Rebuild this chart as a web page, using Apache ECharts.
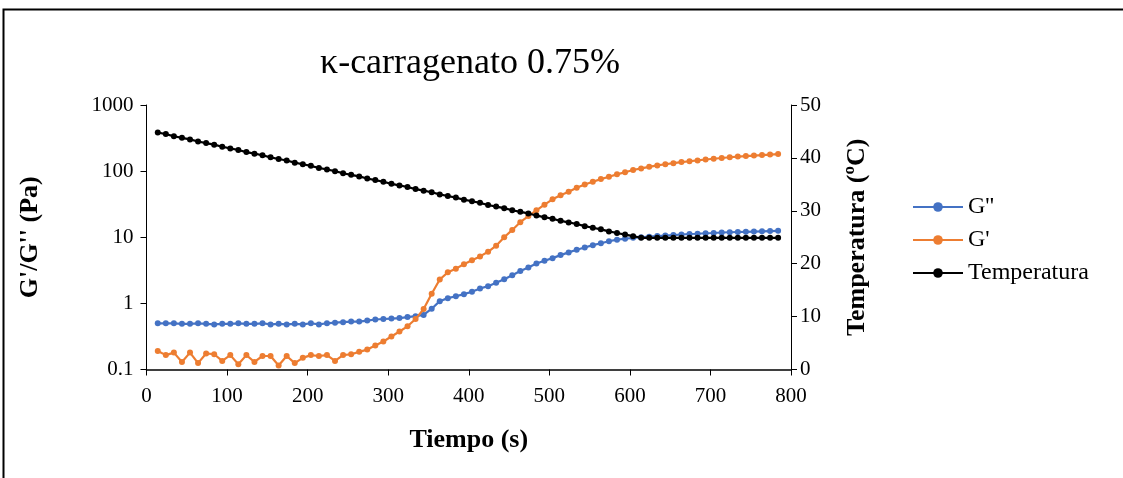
<!DOCTYPE html>
<html>
<head>
<meta charset="utf-8">
<script src="https://cdn.jsdelivr.net/npm/echarts@6/dist/echarts.min.js"></script>
<style>
  html, body { margin: 0; padding: 0; background: #ffffff; }
  #chart { width: 1123px; height: 478px; }
</style>
</head>
<body>
<div id="chart"></div>
<script>
// Time of each measurement (s)
const tiempo = [
  14, 24, 34, 44, 54, 64, 74, 84, 94, 104,
  114, 124, 134, 144, 154, 164, 174, 184, 194, 204,
  214, 224, 234, 244, 254, 264, 274, 284, 294, 304,
  314, 324, 334, 344, 354, 364, 374, 384, 394, 404,
  414, 424, 434, 444, 454, 464, 474, 484, 494, 504,
  514, 524, 534, 544, 554, 564, 574, 584, 594, 604,
  614, 624, 634, 644, 654, 664, 674, 684, 694, 704,
  714, 724, 734, 744, 754, 764, 774, 784
];

// Loss modulus G'' (Pa)
const gDoblePrima = [
  0.50, 0.50, 0.50, 0.49, 0.49, 0.50, 0.49, 0.48, 0.49, 0.49,
  0.50, 0.49, 0.49, 0.50, 0.48, 0.49, 0.48, 0.49, 0.48, 0.50,
  0.48, 0.50, 0.51, 0.52, 0.53, 0.53, 0.55, 0.57, 0.58, 0.59,
  0.60, 0.62, 0.64, 0.67, 0.83, 1.08, 1.20, 1.28, 1.38, 1.50,
  1.68, 1.82, 2.05, 2.31, 2.66, 3.09, 3.48, 4.00, 4.40, 4.83,
  5.37, 5.90, 6.47, 7.00, 7.60, 8.10, 8.70, 9.20, 9.50, 9.80,
  10.0, 10.2, 10.4, 10.6, 10.8, 11.0, 11.2, 11.3, 11.5, 11.6,
  11.8, 11.9, 12.0, 12.1, 12.2, 12.3, 12.4, 12.5
];

// Storage modulus G' (Pa)
const gPrima = [
  0.19, 0.165, 0.18, 0.13, 0.18, 0.125, 0.175, 0.17, 0.135, 0.165,
  0.12, 0.165, 0.13, 0.16, 0.16, 0.115, 0.16, 0.125, 0.15, 0.165,
  0.16, 0.165, 0.135, 0.165, 0.17, 0.185, 0.20, 0.23, 0.265, 0.315,
  0.375, 0.45, 0.58, 0.82, 1.4, 2.3, 2.95, 3.35, 3.9, 4.5,
  5.13, 6.03, 7.45, 10.0, 12.9, 16.9, 20.9, 25.5, 31.1, 37.5,
  43.2, 48.6, 56, 62.9, 69, 75.7, 82.4, 89.3, 96, 104,
  110, 116, 122, 127, 132, 137, 141, 145, 150, 154,
  158, 162, 166, 169, 172, 175, 178, 181
];

// Sample temperature (ºC)
const temperatura = [
  44.8, 44.5, 44.1, 43.8, 43.5, 43.1, 42.8, 42.5, 42.1, 41.8,
  41.5, 41.1, 40.8, 40.5, 40.1, 39.8, 39.5, 39.1, 38.8, 38.5,
  38.1, 37.8, 37.5, 37.1, 36.8, 36.5, 36.1, 35.8, 35.5, 35.1,
  34.8, 34.5, 34.1, 33.8, 33.5, 33.1, 32.8, 32.5, 32.1, 31.8,
  31.5, 31.1, 30.8, 30.5, 30.1, 29.8, 29.5, 29.1, 28.8, 28.5,
  28.1, 27.8, 27.5, 27.1, 26.8, 26.5, 26.1, 25.8, 25.5, 25.2,
  24.9, 24.9, 24.9, 24.9, 24.9, 24.9, 24.9, 24.9, 24.9, 24.9,
  24.9, 24.9, 24.9, 24.9, 24.9, 24.9, 24.9, 24.9
];

const FONT = "'Liberation Serif', 'Times New Roman', serif";

function pares(ys) {
  return tiempo.map((t, i) => [t, ys[i]]);
}

const chart = echarts.init(document.getElementById('chart'), null, { renderer: 'canvas' });

const axisText = { color: '#000', fontFamily: FONT, fontSize: 21 };
const nameText = { color: '#000', fontFamily: FONT, fontSize: 26, fontWeight: 'bold' };

function serie(name, data, color, yAxisIndex, z) {
  return {
    name: name,
    type: 'line',
    yAxisIndex: yAxisIndex,
    data: pares(data),
    symbol: 'circle',
    symbolSize: 6,
    showSymbol: true,
    z: z,
    lineStyle: { color: color, width: 2.2 },
    itemStyle: { color: color, borderWidth: 0 },
    emphasis: { disabled: true },
    animation: false
  };
}

chart.setOption({
  backgroundColor: '#ffffff',
  animation: false,
  title: {
    text: 'κ-carragenato 0.75%',
    left: 465,
    top: 41,
    textAlign: 'center',
    textStyle: { color: '#000', fontFamily: FONT, fontSize: 36, fontWeight: 'normal' }
  },
  graphic: [{
    type: 'rect',
    shape: { x: 3.5, y: 9.5, width: 1300, height: 700 },
    style: { fill: 'none', stroke: '#000', lineWidth: 2 },
    silent: true
  }],
  legend: {
    orient: 'vertical',
    left: 912,
    top: 195,
    padding: 0,
    itemWidth: 50,
    itemHeight: 12,
    itemGap: 9,
    data: ["G''", "G'", 'Temperatura'],
    textStyle: { color: '#000', fontFamily: FONT, fontSize: 24 }
  },
  grid: { left: 146.5, right: 332, top: 105, bottom: 108.5, containLabel: false },
  xAxis: {
    type: 'value',
    min: 0,
    max: 800,
    interval: 100,
    name: 'Tiempo (s)',
    nameLocation: 'middle',
    nameGap: 58,
    nameTextStyle: nameText,
    axisLine: { show: true, lineStyle: { color: '#000', width: 1.5 } },
    axisTick: { show: true, inside: false, length: 6, lineStyle: { color: '#000', width: 1 } },
    axisLabel: Object.assign({ margin: 16 }, axisText),
    splitLine: { show: false }
  },
  yAxis: [{
    type: 'log',
    logBase: 10,
    min: 0.1,
    max: 1000,
    name: "G'/G'' (Pa)",
    nameLocation: 'middle',
    nameGap: 103,
    nameRotate: 90,
    nameTextStyle: nameText,
    axisLine: { show: true, lineStyle: { color: '#000', width: 1 } },
    axisTick: { show: true, inside: false, length: 6, lineStyle: { color: '#000', width: 1 } },
    axisLabel: Object.assign({
      margin: 13,
      formatter: v => String(+Number(v).toPrecision(3))
    }, axisText),
    splitLine: { show: false }
  }, {
    type: 'value',
    min: 0,
    max: 50,
    interval: 10,
    position: 'right',
    name: 'Temperatura (ºC)',
    nameLocation: 'middle',
    nameGap: 53,
    nameRotate: 90,
    nameTextStyle: nameText,
    axisLine: { show: true, lineStyle: { color: '#000', width: 1 } },
    axisTick: { show: true, inside: false, length: 6, lineStyle: { color: '#000', width: 1 } },
    axisLabel: Object.assign({ margin: 9 }, axisText),
    splitLine: { show: false }
  }],
  series: [
    serie("G''", gDoblePrima, '#4472C4', 0, 3),
    serie("G'", gPrima, '#ED7D31', 0, 4),
    serie('Temperatura', temperatura, '#000000', 1, 5)
  ]
});
</script>
</body>
</html>
